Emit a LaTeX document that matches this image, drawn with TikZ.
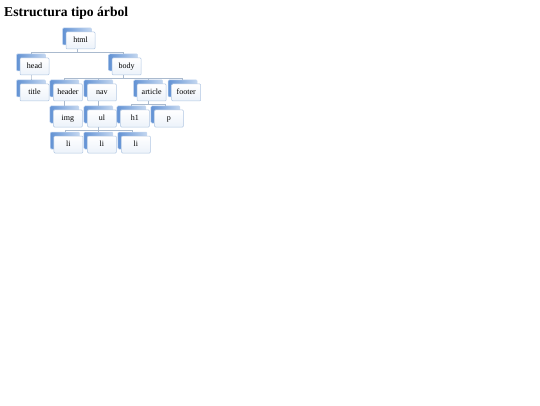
\documentclass[tikz,border=0pt]{standalone}
\usepackage{fontspec}
\setmainfont{Liberation Serif}
\usepackage{tikz}
\usetikzlibrary{positioning, shadows}

\begin{document}
\begin{tikzpicture}[x=1pt, y=1pt, font=\fontsize{8}{9}\selectfont, line width=0.5pt]
        % Define colors
        \definecolor{backblue}{RGB}{98, 146, 212}
        \definecolor{backlight}{RGB}{196, 215, 240}
        \definecolor{frontline}{RGB}{176, 198, 226}
        \definecolor{frontfill}{RGB}{236, 242, 250}
        \definecolor{linkgray}{RGB}{170, 186, 206}

        \tikzset{
            tag/.style={rectangle, rounded corners=1pt, draw=frontline, top color=white, bottom color=frontfill,
                minimum width=29pt, minimum height=17pt, inner sep=0pt, text height=5.5pt, text depth=1.6pt, text=black,
                general shadow={shadow xshift=-3.5pt, shadow yshift=4pt, left color=backblue, right color=backlight, draw=backlight}},
            link/.style={draw=linkgray, line width=0.6pt}
        }

        \useasboundingbox (0,0) rectangle (540,405);

        % Title
        \node[anchor=base west, inner sep=0pt, font=\fontsize{13.6}{16}\selectfont\bfseries] (heading) at (4,388) {Estructura tipo árbol};

        % Nodes
        \node[tag] (html) at (80.6,364.5) {html};
        \node[tag, below=8.5pt of html, xshift=-46.1pt] (head) {head};
        \node[tag, below=8.5pt of html, xshift=46.1pt] (body) {body};

        \node[tag, below=8.5pt of head] (title) {title};
        \node[tag, below=8.5pt of body, xshift=-58.75pt] (header) {header};
        \node[tag, right=4.5pt of header] (nav) {nav};
        \node[tag, below=8.5pt of body, xshift=25pt] (article) {article};
        \node[tag, right=5pt of article] (footer) {footer};

        \node[tag, below=8.5pt of header] (img) {img};
        \node[tag, below=8.5pt of nav] (ul) {ul};
        \node[tag, below=8.5pt of article, xshift=-16.75pt] (hone) {h1};
        \node[tag, right=4.5pt of hone] (p) {p};

        \node[tag, below=8.5pt of ul, xshift=-33.5pt] (lione) {li};
        \node[tag, below=8.5pt of ul] (litwo) {li};
        \node[tag, right=4.5pt of litwo] (lithree) {li};

        % Edges
        \foreach \a/\b in {html/head, html/body, head/title, body/header, body/nav, body/article, body/footer,
                           header/img, nav/ul, article/hone, article/p, ul/lione, ul/litwo, ul/lithree} {
            \draw[link] ([xshift=-3.5pt]\a.south) -- ++(0,-3pt) -| ([xshift=-3.5pt, yshift=4pt]\b.north);
        }
    \end{tikzpicture}
\end{document}
